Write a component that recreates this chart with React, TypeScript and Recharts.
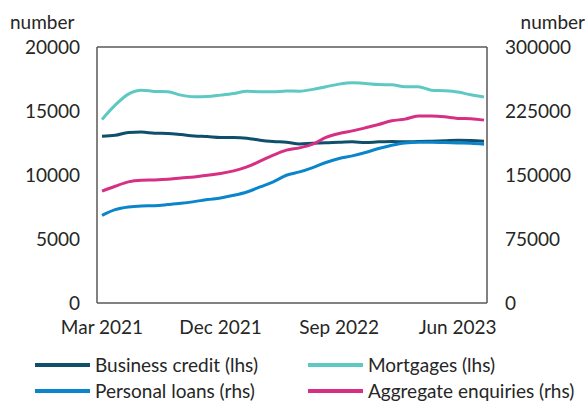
import React from 'react'
import { LineChart, Line, XAxis, YAxis, ReferenceLine } from 'recharts'

const months = [
    'Mar 2021', 'Apr 2021', 'May 2021', 'Jun 2021', 'Jul 2021', 'Aug 2021', 'Sep 2021', 'Oct 2021', 'Nov 2021', 'Dec 2021',
    'Jan 2022', 'Feb 2022', 'Mar 2022', 'Apr 2022', 'May 2022', 'Jun 2022', 'Jul 2022', 'Aug 2022', 'Sep 2022', 'Oct 2022',
    'Nov 2022', 'Dec 2022', 'Jan 2023', 'Feb 2023', 'Mar 2023', 'Apr 2023', 'May 2023', 'Jun 2023', 'Jul 2023', 'Aug 2023',
]

// lhs
const businessCredit = [
    13030, 13100, 13320, 13350, 13270, 13250, 13160, 13050, 13000, 12930,
    12930, 12880, 12720, 12620, 12560, 12430, 12480, 12510, 12560, 12590,
    12540, 12590, 12620, 12590, 12620, 12640, 12670, 12720, 12700, 12640,
]
const mortgages = [
    14340, 15460, 16320, 16630, 16530, 16500, 16240, 16110, 16130, 16240,
    16370, 16550, 16500, 16500, 16560, 16550, 16690, 16900, 17100, 17200,
    17150, 17070, 17050, 16900, 16900, 16630, 16580, 16480, 16270, 16090,
]
// rhs
const personalLoans = [
    102700, 109400, 112500, 113700, 114000, 115300, 116800, 118800, 121200, 123100,
    126200, 130100, 136000, 141900, 149700, 153600, 158700, 164600, 169300, 172400,
    176300, 181000, 184900, 187600, 188400, 188400, 188000, 187600, 187200, 186100,
]
const aggregateEnquiries = [
    131000, 136800, 141900, 143800, 144200, 145000, 146500, 147700, 149700, 151700,
    154800, 159500, 166200, 173200, 179100, 181800, 186100, 194000, 198700, 201700,
    205300, 209200, 213500, 215500, 219000, 219000, 218200, 216300, 216000, 214300,
]

const leftTicks = [0, 5000, 10000, 15000, 20000]
const rightTicks = [0, 75000, 150000, 225000, 300000]

const series = [
    { key: 'business', name: 'Business credit (lhs)', color: '#0f4f6b', axis: 'left' },
    { key: 'mortgages', name: 'Mortgages (lhs)', color: '#5ec8c2', axis: 'left' },
    { key: 'personal', name: 'Personal loans (rhs)', color: '#0a85cc', axis: 'right' },
    { key: 'aggregate', name: 'Aggregate enquiries (rhs)', color: '#d62f84', axis: 'right' },
]

const data = months.map((m, i) => ({
    month: m,
    business: businessCredit[i],
    mortgages: mortgages[i],
    personal: personalLoans[i],
    aggregate: aggregateEnquiries[i],
}))

const FONT = 'Lato, "Noto Sans", sans-serif'
const AXIS = '#595959'
const TEXT = '#262626'

export default function App() {
    const tickStyle = { fontSize: 19, fill: TEXT, fontFamily: FONT }
    return (
        <div style={{ position: 'absolute', left: 0, top: 0, width: 587, height: 401, background: '#fff', fontFamily: FONT, color: TEXT, overflow: 'hidden' }}>
            {/* unit labels */}
            <div style={{ position: 'absolute', left: 10, top: 10, fontSize: 19, lineHeight: '24px' }}>number</div>
            <div style={{ position: 'absolute', right: 2, top: 10, fontSize: 19, lineHeight: '24px' }}>number</div>

            <div style={{ position: 'absolute', left: 0, top: 0 }}>
                <LineChart width={587} height={345} data={data} margin={{ top: 47, right: 0, bottom: 0, left: 0 }}>
                    <XAxis
                        dataKey="month"
                        interval={8}
                        height={42}
                        tickLine={false}
                        tickSize={0}
                        tickMargin={18}
                        padding={{ left: 5, right: 3 }}
                        axisLine={{ stroke: AXIS, strokeWidth: 1.5 }}
                        tick={tickStyle}
                    />
                    <YAxis
                        yAxisId="left"
                        orientation="left"
                        width={97}
                        domain={[0, 20000]}
                        ticks={leftTicks}
                        tickLine={false}
                        tickSize={0}
                        tickMargin={17}
                        axisLine={{ stroke: AXIS, strokeWidth: 1.5 }}
                        tick={tickStyle}
                    />
                    <YAxis
                        yAxisId="right"
                        orientation="right"
                        width={100}
                        domain={[0, 300000]}
                        ticks={rightTicks}
                        tickLine={false}
                        tickSize={0}
                        tickMargin={18}
                        axisLine={{ stroke: AXIS, strokeWidth: 1.5 }}
                        tick={tickStyle}
                    />
                    <ReferenceLine yAxisId="left" y={20000} stroke={AXIS} strokeWidth={1.5} />
                    {series.map((s) => (
                        <Line
                            key={s.key}
                            yAxisId={s.axis}
                            dataKey={s.key}
                            name={s.name}
                            type="monotone"
                            stroke={s.color}
                            strokeWidth={3}
                            dot={false}
                            isAnimationActive={false}
                        />
                    ))}
                </LineChart>
            </div>

            {/* Legend */}
            <div
                style={{
                    position: 'absolute',
                    left: 35,
                    top: 355,
                    display: 'grid',
                    gridTemplateColumns: '273px auto',
                    rowGap: 6,
                    fontSize: 19,
                    lineHeight: '20px',
                }}
            >
                {series.map((s) => (
                    <div key={s.key} style={{ display: 'flex', alignItems: 'center', gap: 5, whiteSpace: 'nowrap' }}>
                        <span style={{ width: 55, height: 4, background: s.color, flexShrink: 0 }} />
                        <span>{s.name}</span>
                    </div>
                ))}
            </div>
        </div>
    )
}
